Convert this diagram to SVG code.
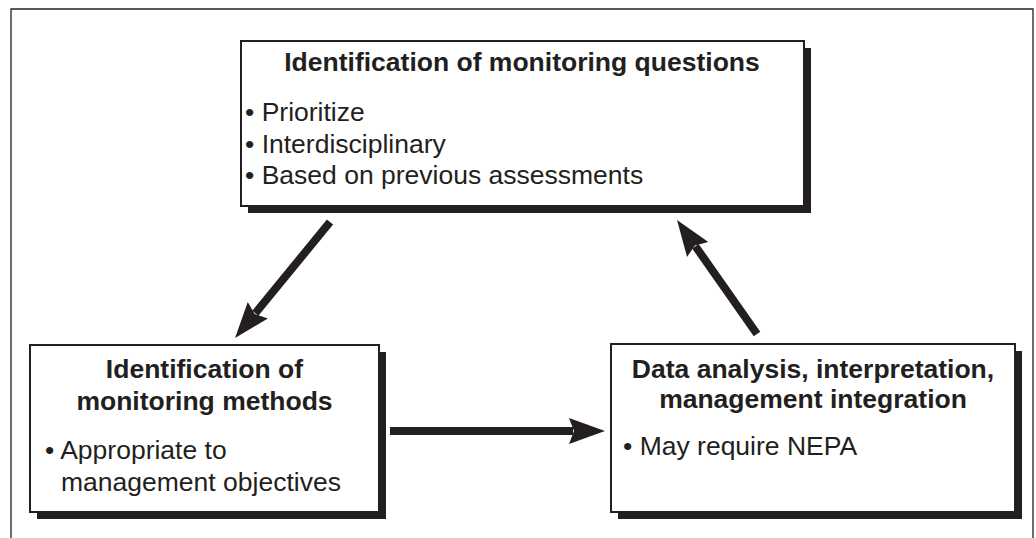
<svg xmlns="http://www.w3.org/2000/svg" width="1036" height="538" viewBox="0 0 1036 538">
  <style>
    .frame { fill: none; stroke: #222; stroke-width: 1.3; }
    .shadow { fill: #231f20; }
    .box { fill: #fff; stroke: #231f20; stroke-width: 2; }
    .title { font-family: "Liberation Sans", Arial, sans-serif; font-weight: bold; font-size: 26.5px; fill: #231f20; text-anchor: middle; }
    .item { font-family: "Liberation Sans", Arial, sans-serif; font-size: 26.5px; fill: #231f20; }
    .conn { stroke: #231f20; stroke-width: 8; fill: none; marker-end: url(#head); }
  </style>
  <defs>
    <marker id="head" markerUnits="userSpaceOnUse" markerWidth="40" markerHeight="30" refX="4" refY="14" orient="auto">
      <path d="M0,1 L36,14 L0,27 L5,14 Z" fill="#231f20"/>
    </marker>
  </defs>

  <rect width="1036" height="538" fill="#fff"/>
  <!-- open frame: top, left and right sides -->
  <path class="frame" d="M11,538 V9 H1033 V538"/>

  <g id="node-questions">
    <rect class="shadow" x="248" y="48" width="563" height="165"/>
    <rect class="box" x="241" y="41" width="563" height="165"/>
    <text class="title" x="522" y="71">Identification of monitoring questions</text>
    <text class="item" x="245" y="121">• Prioritize</text>
    <text class="item" x="245" y="153">• Interdisciplinary</text>
    <text class="item" x="245" y="184">• Based on previous assessments</text>
  </g>

  <g id="node-methods">
    <rect class="shadow" x="37" y="352" width="349" height="167"/>
    <rect class="box" x="30" y="345" width="349" height="167"/>
    <text class="title" x="204.5" y="378">Identification of</text>
    <text class="title" x="204.5" y="410">monitoring methods</text>
    <text class="item" x="45" y="459">• Appropriate to</text>
    <text class="item" x="61" y="491">management objectives</text>
  </g>

  <g id="node-analysis">
    <rect class="shadow" x="618" y="351" width="404" height="168"/>
    <rect class="box" x="611" y="344" width="404" height="168"/>
    <text class="title" x="813" y="378">Data analysis, interpretation,</text>
    <text class="title" x="813" y="408">management integration</text>
    <text class="item" x="623" y="455">• May require NEPA</text>
  </g>

  <g id="connectors">
    <line class="conn" x1="330" y1="222" x2="255.3" y2="313.3"/>
    <line class="conn" x1="390" y1="431" x2="573" y2="431"/>
    <line class="conn" x1="757" y1="334" x2="695.4" y2="246.2"/>
  </g>
</svg>
